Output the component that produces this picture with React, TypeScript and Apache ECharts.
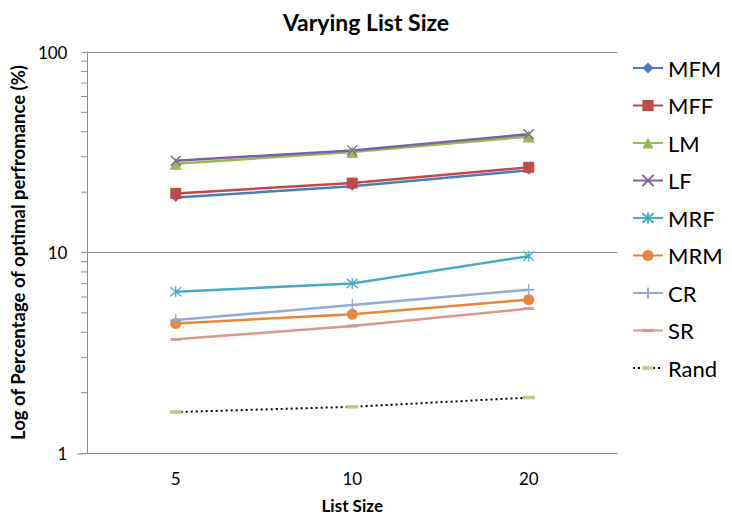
import React, { useEffect, useRef } from "react";
import * as echarts from "echarts";

const categories = ["5", "10", "20"];
const titleText = "Varying List Size";
const xName = "List Size";
const yName = "Log of Percentage of optimal perfromance (%)";

const MFM = [18.8, 21.4, 25.7];
const MFF = [19.7, 22.2, 26.6];
const LM = [27.7, 31.7, 37.9];
const LF = [28.7, 32.3, 38.9];
const MRF = [6.37, 7.01, 9.59];
const MRM = [4.43, 4.92, 5.82];
const CR = [4.6, 5.47, 6.52];
const SR = [3.69, 4.3, 5.25];
const Rand = [1.6, 1.7, 1.89];

const minorTickValues = [2, 3, 4, 5, 6, 7, 8, 9, 20, 30, 40, 50, 60, 70, 80, 90];

const FONT = "Lato, 'Open Sans', sans-serif";
const GRID_LEFT = 83;
const GRID_BOTTOM = 65;
const HEIGHT = 519;

const X_PATH = "path://M0,0L10,10M10,0L0,10";
const STAR_PATH = "path://M0,0L10,10M10,0L0,10M5,-1L5,11";
const PLUS_PATH = "path://M5,0L5,10M0,5L10,5";
// dash centred in a square box (degenerate corner sub-paths set the box)
const SR_DASH = "path://M0,0L0.01,0Z M0,3.6L10,3.6L10,6.4L0,6.4Z M10,10L9.99,10Z";
const RAND_DASH = "path://M0,0L0.01,0Z M0,4.2L12,4.2L12,7.8L0,7.8Z M12,12L11.99,12Z";

type Def = {
  name: string;
  data: number[];
  color: string;
  symbol: string;
  size: number | number[];
  stroke?: boolean;
  dotted?: boolean;
  markerColor?: string;
};

const defs: Def[] = [
  { name: "MFM", data: MFM, color: "#4A7EBB", symbol: "diamond", size: 9 },
  { name: "MFF", data: MFF, color: "#BE4B48", symbol: "rect", size: 11 },
  { name: "LM", data: LM, color: "#98B954", symbol: "triangle", size: 12 },
  { name: "LF", data: LF, color: "#7D60A0", symbol: X_PATH, size: 10, stroke: true },
  { name: "MRF", data: MRF, color: "#46AAC5", symbol: STAR_PATH, size: 11, stroke: true },
  { name: "MRM", data: MRM, color: "#E8873A", symbol: "circle", size: 11 },
  { name: "CR", data: CR, color: "#93A9D8", symbol: PLUS_PATH, size: 12, stroke: true },
  { name: "SR", data: SR, color: "#D99694", symbol: SR_DASH, size: 10 },
  { name: "Rand", data: Rand, color: "#000000", symbol: RAND_DASH, size: 12, dotted: true, markerColor: "#B3CE85" },
];

export default function App() {
  const ref = useRef<HTMLDivElement>(null);

  useEffect(() => {
    document.body.style.margin = "0";
    if (!ref.current) return;
    const chart = echarts.init(ref.current, null, { renderer: "svg" });

    const series = defs.map((d) => {
      const mc = d.markerColor || d.color;
      return {
        name: d.name,
        type: "line",
        data: d.data,
        symbol: d.symbol,
        symbolSize: d.size,
        showSymbol: true,
        lineStyle: {
          color: d.color,
          width: d.dotted ? 2 : 2.5,
          type: d.dotted ? [2, 3] : "solid",
        },
        itemStyle: d.stroke
          ? { color: mc, borderColor: mc, borderWidth: 1.3 }
          : { color: mc, borderWidth: 0 },
        emphasis: { disabled: true },
      };
    });

    chart.setOption({
      animation: false,
      title: {
        text: titleText,
        left: "center",
        top: 5,
        textStyle: { fontFamily: FONT, fontSize: 23, fontWeight: "bold", color: "#000" },
      },
      legend: {
        orient: "vertical",
        left: 632,
        top: 57,
        padding: 0,
        itemWidth: 30,
        itemHeight: 14,
        itemGap: 15.5,
        data: defs.map((d) => d.name),
        textStyle: {
          fontFamily: FONT,
          fontSize: 22,
          lineHeight: 22,
          color: "#000",
        },
      },
      grid: { left: GRID_LEFT, right: 115, top: 52, bottom: GRID_BOTTOM, containLabel: false },
      xAxis: {
        type: "category",
        data: categories,
        boundaryGap: true,
        name: xName,
        nameLocation: "middle",
        nameGap: 44,
        nameTextStyle: { fontFamily: FONT, fontSize: 17, fontWeight: "bold", color: "#000" },
        axisLine: { lineStyle: { color: "#8C8C8C", width: 1 } },
        axisTick: { show: false },
        axisLabel: { fontFamily: FONT, fontSize: 17, color: "#000", margin: 17 },
        splitLine: { show: false },
      },
      yAxis: {
        type: "log",
        logBase: 10,
        min: 1,
        max: 100,
        name: yName,
        nameLocation: "middle",
        nameGap: 50,
        nameTextStyle: { fontFamily: FONT, fontSize: 18.5, fontWeight: "bold", color: "#000" },
        axisLine: { show: true, lineStyle: { color: "#8C8C8C", width: 1 } },
        axisTick: { show: true, length: 6, lineStyle: { color: "#8C8C8C" } },
        axisLabel: { fontFamily: FONT, fontSize: 17, color: "#000", margin: 20 },
        splitLine: { show: true, lineStyle: { color: "#8C8C8C", width: 1 } },
      },
      series,
    });

    const ticks: any[] = minorTickValues.map((v) => {
      const y = chart.convertToPixel({ yAxisIndex: 0 }, v) as number;
      return {
        type: "line",
        shape: { x1: GRID_LEFT - 2, y1: y, x2: GRID_LEFT + 5, y2: y },
        style: { stroke: "#8C8C8C", lineWidth: 1 },
        silent: true,
      };
    });
    // small extension of the category axis line to the left of the value axis
    const yBase = HEIGHT - GRID_BOTTOM;
    ticks.push({
      type: "line",
      shape: { x1: GRID_LEFT - 6, y1: yBase, x2: GRID_LEFT, y2: yBase },
      style: { stroke: "#8C8C8C", lineWidth: 1 },
      silent: true,
    });
    chart.setOption({ graphic: ticks });

    return () => chart.dispose();
  }, []);

  return <div ref={ref} style={{ width: 732, height: HEIGHT }} />;
}
